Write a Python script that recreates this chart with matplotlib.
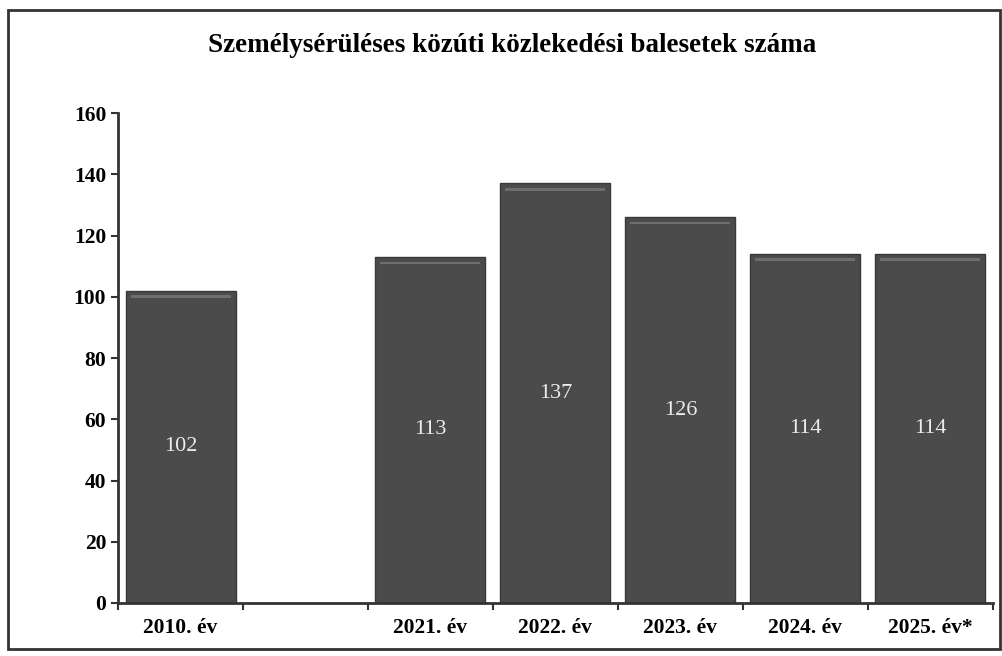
import numpy as np
import matplotlib.pyplot as plt
from matplotlib.patches import Rectangle

categories = ["2010. év", "", "2021. év", "2022. év", "2023. év", "2024. év", "2025. év*"]
values = [102, None, 113, 137, 126, 114, 114]
title = "Személysérüléses közúti közlekedési balesetek száma"

plt.rcParams["font.family"] = ["Liberation Serif", "DejaVu Serif"]

fig = plt.figure(figsize=(10.02, 6.56), dpi=100)
ax = fig.add_axes([0.1178, 0.0808, 0.873, 0.7469])

pos = [i for i, v in enumerate(values) if v is not None]
vals = [v for v in values if v is not None]

ax.bar(pos, vals, width=0.88, color="#4b4b4b", edgecolor="#393939", linewidth=1)
# light strip near the top of each bar
ax.bar(pos, [0.9] * len(vals), bottom=[v - 2.4 for v in vals], width=0.8,
       color="#6e6e6e", linewidth=0)

for p, v in zip(pos, vals):
    ax.text(p, v / 2, str(v), ha="center", va="center", color="#ececec", fontsize=16)

ax.set_xlim(-0.5, len(categories) - 0.5)
ax.set_ylim(0, 160)
ax.set_yticks(np.arange(0, 161, 20))
ax.set_xticks(range(len(categories)))
ax.set_xticklabels(categories, fontweight="bold", fontsize=15.5)
ax.set_xticks(np.arange(-0.5, len(categories), 1), minor=True)
ax.tick_params(axis="x", which="major", length=0, pad=11)
ax.tick_params(axis="x", which="minor", length=5, width=1.5, color="#333333")
ax.tick_params(axis="y", length=5, width=1.5, color="#333333", labelsize=15.5)
for lab in ax.get_yticklabels():
    lab.set_fontweight("bold")

for s in ["top", "right"]:
    ax.spines[s].set_visible(False)
for s in ["left", "bottom"]:
    ax.spines[s].set_linewidth(2)
    ax.spines[s].set_color("#333333")

fig.text(0.511, 0.93, title, ha="center", va="center", fontsize=19.5, fontweight="bold")

fig.patches.append(Rectangle((0.008, 0.01), 0.99, 0.975, transform=fig.transFigure,
                             fill=False, edgecolor="#333333", linewidth=2))

fig.savefig("out.png", dpi=100)
